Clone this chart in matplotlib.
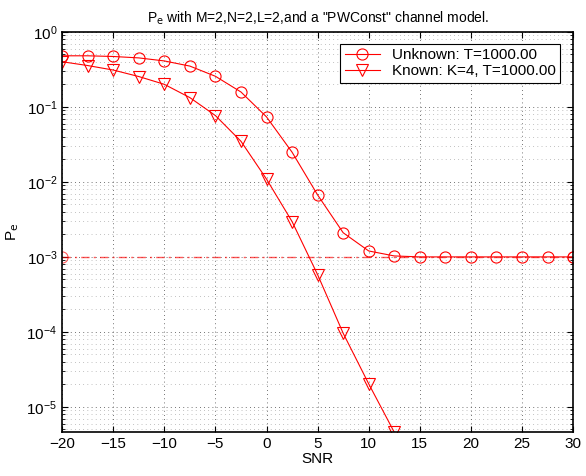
"""Pe versus SNR, known vs unknown channel"""
import matplotlib
matplotlib.use("Agg")
from matplotlib import pyplot as plt
from matplotlib.ticker import LogLocator, NullFormatter

SNR = [-20, -17.5, -15, -12.5, -10, -7.5, -5, -2.5, 0, 2.5, 5, 7.5, 10,
       12.5, 15, 17.5, 20, 22.5, 25, 27.5, 30]
PE_UNKNOWN = [0.48, 0.48, 0.47, 0.45, 0.41, 0.35, 0.256, 0.158, 0.0736,
              0.0249, 0.0067, 0.0021, 0.0012, 0.00103, 0.001, 0.001, 0.001,
              0.001, 0.001, 0.001, 0.001]
SNR_KNOWN = [-20, -17.5, -15, -12.5, -10, -7.5, -5, -2.5, 0, 2.5, 5, 7.5, 10, 12.5]
PE_KNOWN = [0.40, 0.356, 0.31, 0.254, 0.20, 0.133, 0.0766, 0.0348, 0.0109,
            0.00296, 0.00058, 9.6e-5, 2.03e-5, 4.6e-6]
FLOOR_X = [-20, 30]
FLOOR_Y = [1e-3, 1e-3]

plt.rcParams["font.family"] = ["Liberation Sans", "DejaVu Sans"]
plt.rcParams["font.size"] = 11

fig = plt.figure(figsize=(5.86, 4.76), dpi=100)
ax = fig.add_axes([0.106, 0.092, 0.872, 0.841])

ax.semilogy(SNR, PE_UNKNOWN, color="red", linewidth=0.8, marker="o",
            markersize=8, markerfacecolor="none", markeredgewidth=0.8,
            label="Unknown: T=1000.00")
ax.semilogy(SNR_KNOWN, PE_KNOWN, color="red", linewidth=0.8, marker="v",
            markersize=8, markerfacecolor="none", markeredgewidth=0.8,
            label="Known: K=4, T=1000.00")
ax.semilogy(FLOOR_X, FLOOR_Y, color="red", linewidth=1.0,
            linestyle=(0, (6, 3, 1.5, 3)), marker="o", markersize=8,
            markerfacecolor="none", markeredgewidth=0.8, alpha=0.65)

ax.set_xlim(-20, 30)
ax.set_ylim(min(PE_KNOWN), 1)
ax.set_xticks(range(-20, 31, 5))
ax.set_xticklabels(["\u2212" + str(-v) if v < 0 else str(v) for v in range(-20, 31, 5)])
ax.yaxis.set_major_locator(LogLocator(base=10, numticks=10))
ax.yaxis.set_minor_locator(LogLocator(base=10, subs=range(2, 10), numticks=20))
ax.yaxis.set_minor_formatter(NullFormatter())

ax.grid(True, which="major", color="#444444", linestyle=(0, (1, 4)), linewidth=0.6)
ax.grid(True, which="minor", axis="y", color="#555555", linestyle=(0, (1, 5)),
        linewidth=0.5, alpha=0.7)
ax.tick_params(which="both", direction="in", top=True, right=True, labelsize=11)
ax.tick_params(which="major", length=4)
ax.tick_params(which="minor", length=2)
for spine in ax.spines.values():
    spine.set_linewidth(1.2)

ax.set_xlabel("SNR", labelpad=1)
ax.set_ylabel("P$_\\mathrm{e}$", labelpad=4)
ax.set_title("P$_\\mathrm{e}$ with M=2,N=2,L=2,and a \"PWConst\" channel model.",
             fontsize=10, pad=7)

leg = ax.legend(loc="upper right", fancybox=False, edgecolor="black",
                framealpha=1, borderpad=0.3, handlelength=2.3,
                labelspacing=0.15, borderaxespad=0.5, fontsize=11,
                bbox_to_anchor=(0.99, 0.99))
leg.get_frame().set_linewidth(0.8)

plt.savefig("out.png", dpi=100)
